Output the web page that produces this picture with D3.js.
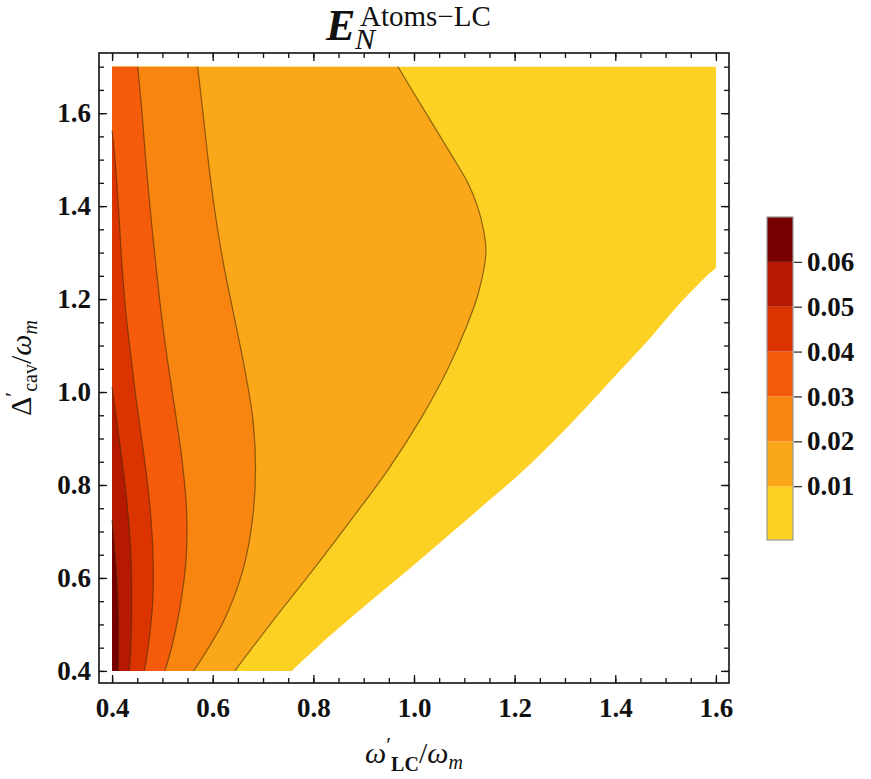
<!DOCTYPE html>
<html>
<head>
<meta charset="utf-8">
<script src="https://cdn.jsdelivr.net/npm/d3@7"></script>
<style>
  body { margin: 0; background: #fff; }
  text { font-family: 'Liberation Serif', 'Times New Roman', serif; }
</style>
</head>
<body>
<div id="chart"></div>
<script>
// contour levels and band colours (lowest band first)
const levels = [0.01, 0.02, 0.03, 0.04, 0.05, 0.06];
const bandColors = ['#fdd123', '#fba71a', '#f8850f', '#f45b0a', '#dc3400', '#b51a00', '#760000'];
const colorbarMin = -0.002;
const colorbarMax = 0.07;

const xTicks = [0.4, 0.6, 0.8, 1.0, 1.2, 1.4, 1.6];
const yTicks = [0.4, 0.6, 0.8, 1.0, 1.2, 1.4, 1.6];

// contour lines, [omega'_LC, Delta'_cav], top to bottom
const contour001 = [[0.968, 1.70], [1.020, 1.607], [1.075, 1.509], [1.107, 1.450], [1.126, 1.400],
  [1.138, 1.350], [1.143, 1.300], [1.128, 1.213], [1.104, 1.140], [1.066, 1.047], [1.012, 0.940],
  [0.948, 0.832], [0.875, 0.725], [0.799, 0.617], [0.721, 0.510], [0.644, 0.40]];
const contour002 = [[0.570, 1.70], [0.580, 1.607], [0.591, 1.499], [0.604, 1.391], [0.620, 1.284],
  [0.640, 1.176], [0.664, 1.047], [0.680, 0.940], [0.685, 0.832], [0.679, 0.725], [0.660, 0.617],
  [0.623, 0.510], [0.589, 0.445], [0.562, 0.40]];
const contour003 = [[0.451, 1.70], [0.459, 1.607], [0.467, 1.499], [0.476, 1.391], [0.486, 1.284],
  [0.497, 1.176], [0.510, 1.069], [0.525, 0.961], [0.539, 0.854], [0.548, 0.746], [0.547, 0.639],
  [0.534, 0.531], [0.517, 0.445], [0.505, 0.40]];
const contour004 = [[0.40, 1.563], [0.406, 1.499], [0.413, 1.391], [0.419, 1.284], [0.427, 1.176],
  [0.436, 1.090], [0.448, 0.983], [0.462, 0.875], [0.474, 0.768], [0.481, 0.660], [0.481, 0.553],
  [0.471, 0.445], [0.464, 0.40]];
const contour005 = [[0.40, 1.011], [0.417, 0.875], [0.429, 0.768], [0.437, 0.660], [0.439, 0.553],
  [0.437, 0.445], [0.434, 0.40]];
const contour006 = [[0.40, 0.725], [0.408, 0.624], [0.4125, 0.517], [0.4125, 0.40]];

// lower-right edge of the computed region (white beyond it)
const domainEdge = [[1.60, 1.267], [1.588, 1.256], [1.522, 1.183], [1.466, 1.112], [1.405, 1.041],
  [1.343, 0.968], [1.280, 0.897], [1.212, 0.826], [1.143, 0.761], [1.066, 0.689], [0.988, 0.617],
  [0.909, 0.546], [0.831, 0.474], [0.757, 0.40]];

const xRange = [0.4, 1.6];
const yRange = [0.4, 1.7];

const drawContour = () => {
  let width = 871;
  let height = 779;
  let frame = { left: 99, right: 729, top: 53, bottom: 683 };

  let svg = d3
    .select('#chart')
    .append('svg')
    .attr('width', width)
    .attr('height', height);

  let pad = 0.026;
  let x = d3.scaleLinear().domain([xRange[0] - pad, xRange[1] + pad]).range([frame.left, frame.right]);
  let y = d3.scaleLinear().domain([yRange[0] - pad, yRange[1] + pad * 1.13]).range([frame.bottom, frame.top]);

  let curveLine = d3
    .line()
    .x((d) => x(d[0]))
    .y((d) => y(d[1]))
    .curve(d3.curveCatmullRom.alpha(0.5));

  let plot = svg.append('g');

  // whole region = lowest band
  let edgePath = curveLine(domainEdge);
  plot
    .append('path')
    .attr(
      'd',
      `M${x(xRange[0])},${y(yRange[1])}L${x(xRange[1])},${y(yRange[1])}L` +
        edgePath.slice(1) +
        `L${x(xRange[0])},${y(yRange[0])}Z`
    )
    .attr('fill', bandColors[0]);

  // region left of each contour
  let contours = [contour001, contour002, contour003, contour004, contour005, contour006];
  let regionPath = (pts) =>
    curveLine(pts) +
    `L${x(xRange[0])},${y(yRange[0])}L${x(xRange[0])},${y(pts[0][1])}Z`;

  plot
    .selectAll('.band')
    .data(contours)
    .enter()
    .append('path')
    .attr('class', 'band')
    .attr('d', regionPath)
    .attr('fill', (d, i) => bandColors[i + 1]);

  plot
    .selectAll('.contour-line')
    .data(contours)
    .enter()
    .append('path')
    .attr('class', 'contour-line')
    .attr('d', (d) => curveLine(d))
    .attr('fill', 'none')
    .attr('stroke', 'rgba(70,45,0,0.6)')
    .attr('stroke-width', 1.2);

  // frame with inward ticks on all sides
  let xMinor = d3.range(0.4, 1.6001, 0.05);
  let yMinor = d3.range(0.4, 1.7001, 0.05);
  let major = 8;
  let minor = 5;
  let fmt = d3.format('.1f');

  let addAxis = (gen, tx, ty, values, size, labels) => {
    let g = svg
      .append('g')
      .attr('transform', `translate(${tx},${ty})`)
      .call(gen.tickValues(values).tickSize(-size).tickFormat(labels ? fmt : ''));
    g.select('.domain').remove();
    g.selectAll('line').attr('stroke', '#111').attr('stroke-width', 1.3);
    return g;
  };

  addAxis(d3.axisBottom(x), 0, frame.bottom, xMinor, minor, false);
  addAxis(d3.axisTop(x), 0, frame.top, xMinor, minor, false);
  addAxis(d3.axisLeft(y), frame.left, 0, yMinor, minor, false);
  addAxis(d3.axisRight(y), frame.right, 0, yMinor, minor, false);
  addAxis(d3.axisTop(x), 0, frame.top, xTicks, major, false);
  addAxis(d3.axisRight(y), frame.right, 0, yTicks, major, false);

  let xAxis = addAxis(d3.axisBottom(x).tickPadding(15), 0, frame.bottom, xTicks, major, true);
  let yAxis = addAxis(d3.axisLeft(y).tickPadding(8), frame.left, 0, yTicks, major, true);

  [xAxis, yAxis].forEach((g) =>
    g
      .selectAll('text')
      .attr('fill', '#111')
      .style('font-family', "'Liberation Serif', serif")
      .style('font-size', '27px')
      .style('font-weight', 'bold')
  );

  svg
    .append('rect')
    .attr('x', frame.left)
    .attr('y', frame.top)
    .attr('width', frame.right - frame.left)
    .attr('height', frame.bottom - frame.top)
    .attr('fill', 'none')
    .attr('stroke', '#111')
    .attr('stroke-width', 1.6);

  // title
  svg.append('text').attr('x', 326).attr('y', 40).attr('fill', '#111')
    .style('font-size', '44px').style('font-weight', 'bold').style('font-style', 'italic').text('E');
  svg.append('text').attr('x', 360).attr('y', 26).attr('fill', '#111')
    .style('font-size', '29px').text('Atoms\u2212LC');
  svg.append('text').attr('x', 355).attr('y', 49).attr('fill', '#111')
    .style('font-size', '30px').style('font-style', 'italic').text('N');

  // x label
  let xLabel = svg
    .append('text')
    .attr('x', (frame.left + frame.right) / 2)
    .attr('y', 763)
    .attr('text-anchor', 'middle')
    .attr('fill', '#111')
    .style('font-size', '30px');
  xLabel.append('tspan').style('font-style', 'italic').text('\u03c9');
  xLabel.append('tspan').attr('dy', -11).style('font-size', '22px').text('\u2032');
  xLabel.append('tspan').attr('dy', 19).style('font-size', '20px').style('font-weight', 'bold').text('LC');
  xLabel.append('tspan').attr('dy', -8).text('/');
  xLabel.append('tspan').style('font-style', 'italic').text('\u03c9');
  xLabel.append('tspan').attr('dy', 6).style('font-size', '20px').style('font-style', 'italic').text('m');

  // y label
  let yLabel = svg
    .append('text')
    .attr('transform', `translate(31, ${(frame.top + frame.bottom) / 2}) rotate(-90)`)
    .attr('text-anchor', 'middle')
    .attr('fill', '#111')
    .style('font-size', '30px');
  yLabel.append('tspan').text('\u0394');
  yLabel.append('tspan').attr('dy', -11).style('font-size', '22px').text('\u2032');
  yLabel.append('tspan').attr('dy', 17).style('font-size', '20px').text('cav');
  yLabel.append('tspan').attr('dy', -6).text('/');
  yLabel.append('tspan').style('font-style', 'italic').text('\u03c9');
  yLabel.append('tspan').attr('dy', 6).style('font-size', '20px').style('font-style', 'italic').text('m');

  // colour bar
  let bar = { x: 767, width: 26, top: 217, bottom: 540 };
  let cScale = d3.scaleLinear().domain([colorbarMin, colorbarMax]).range([bar.bottom, bar.top]);
  let bandEdges = [colorbarMin].concat(levels, [colorbarMax]);

  svg
    .selectAll('.cbar-band')
    .data(bandColors)
    .enter()
    .append('rect')
    .attr('class', 'cbar-band')
    .attr('x', bar.x)
    .attr('width', bar.width)
    .attr('y', (d, i) => cScale(bandEdges[i + 1]))
    .attr('height', (d, i) => cScale(bandEdges[i]) - cScale(bandEdges[i + 1]))
    .attr('fill', (d) => d);

  svg
    .append('rect')
    .attr('x', bar.x)
    .attr('y', bar.top)
    .attr('width', bar.width)
    .attr('height', bar.bottom - bar.top)
    .attr('fill', 'none')
    .attr('stroke', '#999')
    .attr('stroke-width', 1.2);

  let cAxis = svg
    .append('g')
    .attr('transform', `translate(${bar.x + bar.width + 1},0)`)
    .call(d3.axisRight(cScale).tickValues(levels).tickSize(8).tickPadding(5).tickFormat(d3.format('.2f')));
  cAxis.select('.domain').remove();
  cAxis.selectAll('line').attr('stroke', '#333').attr('stroke-width', 1.3);
  cAxis
    .selectAll('text')
    .attr('fill', '#111')
    .style('font-family', "'Liberation Serif', serif")
    .style('font-size', '27px')
    .style('font-weight', 'bold');
};

drawContour();
</script>
</body>
</html>
